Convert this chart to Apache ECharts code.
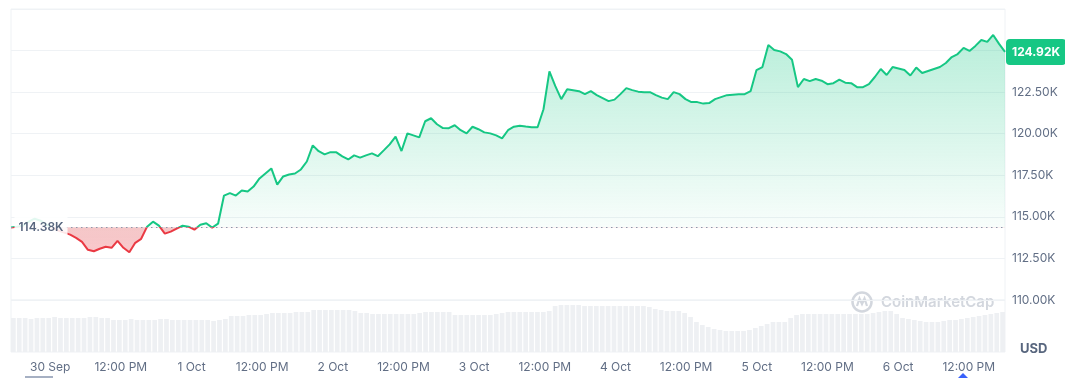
<!DOCTYPE html>
<html>
<head>
<meta charset="utf-8">
<title>BTC 7D</title>
<script src="https://cdn.jsdelivr.net/npm/echarts@6.0.0/dist/echarts.min.js"></script>
<style>
  html, body { margin: 0; padding: 0; background: #fff; }
  #chart-container { width: 1065px; height: 378px; }
</style>
</head>
<body>
<div id="chart-container"></div>
<script>
// opening price of the period (reference line)
var baseline = 114380;

// hourly prices (USD), 29 Sep 17:45 -> 6 Oct 17:45
var prices = [
  114360, 114410, 114470, 114710, 114890, 114770, 114530, 114350, 114170, 114050,
  113930, 113740, 113500, 113020, 112930, 113080, 113200, 113140, 113560, 113140,
  112870, 113440, 113680, 114410, 114710, 114470, 113990, 114110, 114290, 114470,
  114410, 114230, 114530, 114620, 114350, 114590, 116280, 116430, 116280, 116580,
  116520, 116820, 117310, 117610, 117910, 116940, 117430, 117550, 117610, 117850,
  118330, 119300, 118950, 118760, 118890, 118880, 118640, 118450, 118700, 118560,
  118700, 118820, 118650, 119000, 119360, 119830, 118960, 120020, 119900, 119780,
  120750, 120930, 120570, 120340, 120330, 120510, 120210, 120020, 120420, 120270,
  120080, 120020, 119900, 119720, 120210, 120420, 120480, 120430, 120390, 120390,
  121470, 123750, 122860, 122080, 122680, 122620, 122560, 122380, 122560, 122320,
  122140, 121960, 122050, 122380, 122740, 122620, 122530, 122500, 122500, 122320,
  122170, 122080, 122500, 122380, 122080, 121900, 121900, 121810, 121840, 122080,
  122200, 122320, 122350, 122380, 122380, 122560, 123830, 124010, 125340, 125040,
  124950, 124790, 124450, 122800, 123290, 123160, 123290, 123190, 122980, 123040,
  123250, 123070, 123040, 122800, 122800, 122980, 123410, 123890, 123530, 124010,
  123920, 123830, 123500, 123980, 123650, 123770, 123890, 124010, 124250, 124610,
  124790, 125160, 124980, 125280, 125640, 125520, 125940, 125400, 124920
];

// hourly volume (relative)
var volumes = [
  34, 34, 34, 33, 34, 34, 34, 35, 34, 34, 34, 34, 34, 35, 35, 34, 34,
  32, 32, 32, 33, 32, 32, 32, 32, 33, 33, 32, 32, 32, 32, 32, 32, 32, 31, 32, 33,
  36, 36, 36, 37, 37, 37,
  38, 39, 39, 39, 39, 40, 40, 40,
  42, 42, 42, 42, 42, 42, 42,
  41, 39, 39, 38, 38, 38, 38, 38, 38, 38, 38,
  39, 40, 40, 40, 40, 40,
  37, 37, 37, 37, 37, 37, 37, 38,
  39, 40, 40, 40, 40, 40, 40, 40, 41,
  46, 47, 47, 47, 47, 46, 46, 46, 46, 46, 46, 46, 46, 46, 46, 46, 45,
  43, 42, 41, 41, 41,
  39, 35, 30, 27,
  25, 23, 22, 21, 21, 21, 21,
  22, 24, 26, 28,
  30, 30, 30,
  34, 37, 38, 38, 38, 38, 38, 38, 38, 38, 38, 38, 38, 38, 39, 40,
  41, 41, 38, 34,
  33, 32, 31, 30, 30,
  30, 31, 32, 32, 33,
  34, 35, 36, 37, 38, 39, 40
];

var monthNames = ['Jan', 'Feb', 'Mar', 'Apr', 'May', 'Jun', 'Jul', 'Aug', 'Sep', 'Oct', 'Nov', 'Dec'];

var HOUR = 3600 * 1000;
var startTime = new Date(2025, 8, 29, 17, 45).getTime();
var endTime = startTime + (prices.length - 1) * HOUR;
var lastPrice = prices[prices.length - 1];

var priceData = prices.map(function (v, i) { return [startTime + i * HOUR, v]; });
var volumeData = volumes.map(function (v, i) { return [startTime + i * HOUR, v]; });

var green = '#16c784';
var red = '#ea3943';
var labelColor = '#616e85';

function kFormat(v) {
  return (v / 1000).toFixed(2) + 'K';
}

var dom = document.getElementById('chart-container');
var myChart = echarts.init(dom, null, { renderer: 'canvas' });

var option = {
  animation: false,
  textStyle: { fontFamily: 'Inter, sans-serif' },
  grid: [
    { left: 11, right: 60, top: 9, height: 291, outerBoundsMode: 'none', show: true, borderColor: '#eff2f5', borderWidth: 1 },
    { left: 11, right: 60, top: 300, height: 52, outerBoundsMode: 'none', show: true, borderColor: '#eff2f5', borderWidth: 1 }
  ],
  xAxis: [
    { type: 'time', gridIndex: 0, min: startTime, max: endTime, show: false },
    {
      type: 'time',
      gridIndex: 1,
      min: startTime,
      max: endTime,
      minInterval: 12 * HOUR,
      maxInterval: 12 * HOUR,
      axisLine: { show: false },
      axisTick: { show: false },
      splitLine: { show: false },
      axisLabel: {
        color: labelColor,
        fontSize: 12,
        margin: 9,
        hideOverlap: false,
        formatter: function (v) {
          var d = new Date(v);
          if (d.getMinutes() !== 0) return '';
          if (d.getHours() === 0) return d.getDate() + ' ' + monthNames[d.getMonth()];
          if (d.getHours() === 12) return '12:00 PM';
          return '';
        }
      }
    }
  ],
  yAxis: [
    {
      type: 'value',
      gridIndex: 0,
      position: 'right',
      min: 110000,
      max: 127500,
      interval: 2500,
      axisLine: { show: false },
      axisTick: { show: false },
      splitLine: { lineStyle: { color: '#eff2f5' } },
      axisLabel: {
        color: labelColor,
        fontSize: 12,
        margin: 7,
        showMaxLabel: false,
        formatter: kFormat
      }
    },
    { type: 'value', gridIndex: 1, min: 0, max: 52, show: false }
  ],
  visualMap: [
    {
      show: false,
      seriesIndex: 2,
      dimension: 1,
      pieces: [{ gte: baseline, lte: 200000, color: green }],
      outOfRange: { color: red }
    },
    {
      show: false,
      seriesIndex: 1,
      dimension: 1,
      pieces: [{ gte: 0, lt: baseline, color: 'rgba(234,57,67,0.28)' }],
      outOfRange: { color: 'rgba(234,57,67,0)' }
    }
  ],
  graphic: [
    {
      type: 'group',
      z: 100,
      children: [
        {
          type: 'circle',
          shape: { cx: 862, cy: 302, r: 9.5 },
          style: { fill: 'none', stroke: '#d3d7de', lineWidth: 2.5 }
        },
        {
          type: 'polyline',
          shape: { points: [[857, 306], [859.5, 298.5], [862, 304], [864.5, 298.5], [867, 306]] },
          style: { fill: 'none', stroke: '#d3d7de', lineWidth: 2.2 }
        },
        {
          type: 'text',
          x: 881,
          y: 302,
          style: {
            text: 'CoinMarketCap',
            fill: '#d3d7de',
            font: '600 15px Inter, sans-serif',
            verticalAlign: 'middle'
          }
        }
      ]
    },
    {
      type: 'text',
      x: 1020,
      y: 349,
      style: {
        text: 'USD',
        fill: '#58667e',
        font: 'bold 13px Inter, sans-serif',
        verticalAlign: 'middle'
      }
    },
    {
      type: 'line',
      shape: { x1: 25, y1: 377, x2: 53, y2: 377 },
      style: { stroke: '#a6b0c3', lineWidth: 2 }
    },
    {
      type: 'polygon',
      shape: { points: [[958, 378], [963, 373], [968, 378]] },
      style: { fill: '#3861fb' }
    }
  ],
  series: [
    {
      name: 'fill-up',
      type: 'line',
      xAxisIndex: 0,
      yAxisIndex: 0,
      data: priceData,
      showSymbol: false,
      silent: true,
      lineStyle: { width: 0 },
      areaStyle: {
        origin: baseline,
        opacity: 1,
        color: new echarts.graphic.LinearGradient(0, 0, 0, 1, [
          { offset: 0, color: 'rgba(22,199,132,0.30)' },
          { offset: 0.88, color: 'rgba(22,199,132,0.03)' },
          { offset: 1, color: 'rgba(22,199,132,0)' }
        ])
      }
    },
    {
      name: 'fill-down',
      type: 'line',
      xAxisIndex: 0,
      yAxisIndex: 0,
      data: priceData,
      showSymbol: false,
      silent: true,
      lineStyle: { width: 0 },
      areaStyle: { origin: baseline, opacity: 1 }
    },
    {
      name: 'Price',
      type: 'line',
      xAxisIndex: 0,
      yAxisIndex: 0,
      data: priceData,
      showSymbol: false,
      lineStyle: { width: 2 },
      markLine: {
        silent: true,
        symbol: 'none',
        data: [
          {
            yAxis: baseline,
            lineStyle: { type: [1.5, 3.5], color: '#8c97ab', width: 1 },
            label: { show: false }
          },
          {
            yAxis: lastPrice,
            lineStyle: { color: 'rgba(0,0,0,0)', width: 1 },
            label: {
              show: true,
              position: 'end',
              distance: 1,
              formatter: kFormat(lastPrice),
              color: '#fff',
              fontSize: 12,
              fontWeight: 'bold',
              backgroundColor: green,
              borderRadius: 4,
              padding: [7, 6]
            }
          }
        ]
      },
      markPoint: {
        silent: true,
        symbol: 'circle',
        symbolSize: 1,
        itemStyle: { color: 'rgba(0,0,0,0)' },
        data: [
          {
            coord: [startTime, baseline],
            label: {
              show: true,
              position: 'right',
              distance: 3,
              formatter: kFormat(baseline),
              color: '#58667e',
              fontSize: 12,
              fontWeight: 600,
              backgroundColor: 'rgba(255,255,255,0.88)',
              padding: [6, 4]
            }
          }
        ]
      }
    },
    {
      name: 'Volume',
      type: 'bar',
      xAxisIndex: 1,
      yAxisIndex: 1,
      data: volumeData,
      silent: true,
      barWidth: '80%',
      itemStyle: { color: '#eef0f3' }
    }
  ]
};

if (option && typeof option === 'object') {
  myChart.setOption(option);
}

window.addEventListener('resize', myChart.resize);
</script>
</body>
</html>
